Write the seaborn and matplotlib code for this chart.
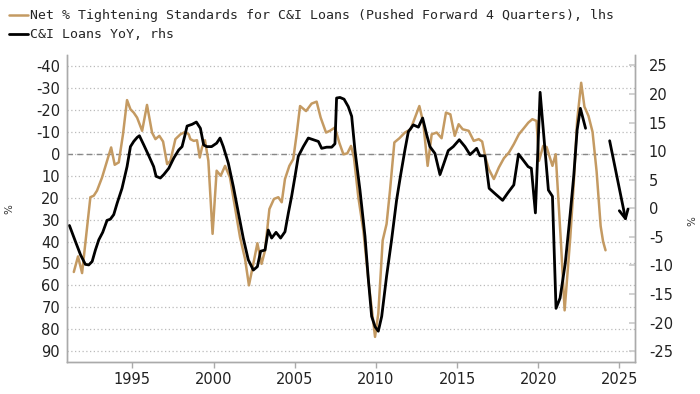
import matplotlib
matplotlib.use('Agg')
import matplotlib.pyplot as plt
from matplotlib.lines import Line2D
import pandas as pd
import seaborn as sns

# Net % tightening standards for C&I loans, pushed forward 4 quarters (lhs, inverted)
sloos_years = [1991.39, 1991.65, 1991.90, 1992.41, 1992.62, 1992.82, 1993.13, 1993.44,
               1993.69, 1993.91, 1994.16, 1994.42, 1994.67, 1994.88, 1995.08, 1995.29,
               1995.60, 1995.90, 1996.21, 1996.42, 1996.66, 1996.89, 1997.14, 1997.34,
               1997.65, 1997.96, 1998.26, 1998.47, 1998.57, 1998.78, 1998.98, 1999.15,
               1999.29, 1999.47, 1999.68, 1999.94, 2000.19, 2000.44, 2000.71, 2001.01,
               2001.32, 2001.63, 2001.94, 2002.18, 2002.45, 2002.70, 2002.96, 2003.17,
               2003.44, 2003.72, 2003.99, 2004.20, 2004.40, 2004.67, 2004.91, 2005.12,
               2005.33, 2005.70, 2006.04, 2006.35, 2006.60, 2006.93, 2007.17, 2007.48,
               2007.75, 2008.00, 2008.24, 2008.47, 2008.65, 2008.92, 2009.23, 2009.54,
               2009.95, 2010.15, 2010.42, 2010.66, 2010.87, 2011.14, 2011.45, 2011.79,
               2012.14, 2012.68, 2012.92, 2013.19, 2013.44, 2013.75, 2014.05, 2014.32,
               2014.59, 2014.86, 2015.10, 2015.35, 2015.72, 2016.03, 2016.34, 2016.55,
               2016.75, 2016.96, 2017.27, 2017.58, 2017.89, 2018.20, 2018.50, 2018.81,
               2019.12, 2019.39, 2019.64, 2019.90, 2020.05, 2020.31, 2020.52, 2020.88,
               2021.08, 2021.40, 2021.63, 2021.98, 2022.19, 2022.40, 2022.65, 2022.85,
               2023.10, 2023.35, 2023.60, 2023.85, 2024.00, 2024.15]
sloos_pct = [53.9, 46.8, 54.4, 19.8, 19.1, 16.8, 10.8, 3.2,
             -2.9, 5.0, 3.9, -8.9, -24.5, -20.3, -18.8, -16.5,
             -10.5, -22.3, -9.7, -6.7, -8.2, -5.6, 4.7, 3.2,
             -6.7, -8.9, -10.0, -8.9, -6.7, -5.9, -6.2, 1.7,
             -2.9, -6.2, 3.2, 36.5, 7.7, 10.0, 5.5, 10.8,
             24.4, 38.0, 47.9, 60.0, 50.2, 40.8, 50.2, 44.1,
             25.2, 20.6, 19.8, 22.1, 11.5, 5.5, 2.4, -8.9,
             -21.8, -19.5, -22.9, -23.8, -16.5, -9.7, -10.5, -12.0,
             -5.0, 0.2, -0.2, -3.6, 1.7, 19.8, 35.0, 57.7,
             83.5, 72.9, 39.5, 32.0, 16.8, -5.2, -7.1, -9.7,
             -11.2, -21.8, -14.2, 5.5, -8.9, -9.7, -7.1, -18.8,
             -18.0, -8.2, -13.5, -11.2, -10.5, -5.9, -6.7, -5.6,
             1.7, 7.0, 11.5, 6.2, 2.0, -0.6, -4.4, -8.9,
             -11.7, -14.2, -15.8, -15.0, 3.2, -3.6, -3.1, 5.5,
             0.2, 40.0, 71.4, 38.0, 13.8, -15.0, -32.4, -21.5,
             -17.3, -10.0, 8.0, 33.0, 40.0, 44.0]

# C&I loans YoY (rhs)
loans_years = [1991.12, 1991.49, 1991.80, 1992.10, 1992.31, 1992.52, 1992.72, 1992.93,
               1993.17, 1993.44, 1993.64, 1993.85, 1994.06, 1994.36, 1994.67, 1994.88,
               1995.08, 1995.29, 1995.43, 1995.70, 1996.01, 1996.31, 1996.46, 1996.72,
               1996.93, 1997.24, 1997.55, 1997.85, 1998.06, 1998.22, 1998.37, 1998.68,
               1998.94, 1999.19, 1999.39, 1999.58, 1999.88, 2000.19, 2000.40, 2000.60,
               2000.91, 2001.22, 2001.53, 2001.83, 2002.14, 2002.45, 2002.70, 2002.90,
               2003.17, 2003.37, 2003.58, 2003.85, 2004.13, 2004.40, 2004.61, 2004.81,
               2005.02, 2005.22, 2005.53, 2005.84, 2006.15, 2006.46, 2006.66, 2006.97,
               2007.28, 2007.48, 2007.58, 2007.79, 2008.04, 2008.30, 2008.51, 2008.71,
               2009.02, 2009.33, 2009.54, 2009.74, 2009.95, 2010.15, 2010.36, 2010.66,
               2010.97, 2011.28, 2011.53, 2011.79, 2012.00, 2012.31, 2012.62, 2012.88,
               2013.13, 2013.33, 2013.64, 2013.95, 2014.16, 2014.46, 2014.77, 2015.14,
               2015.49, 2015.80, 2016.00, 2016.21, 2016.41, 2016.72, 2016.98, 2017.29,
               2017.81, 2018.13, 2018.50, 2018.79, 2019.06, 2019.38, 2019.58, 2019.83,
               2020.12, 2020.35, 2020.63, 2020.88, 2021.10, 2021.35, 2021.67, 2021.98,
               2022.19, 2022.40, 2022.60, 2022.92]
loans_yoy = [-3.0, -5.8, -8.1, -9.8, -9.9, -9.3, -7.3, -5.5,
             -4.2, -2.1, -1.9, -1.1, 0.9, 3.5, 7.3, 10.8,
             11.7, 12.4, 12.7, 11.1, 9.2, 7.3, 5.6, 5.3,
             5.9, 7.0, 8.8, 10.2, 10.8, 12.6, 14.4, 14.7,
             15.1, 14.0, 11.1, 10.8, 10.8, 11.4, 12.3, 10.8,
             7.9, 3.8, -0.8, -5.2, -9.0, -10.8, -10.2, -7.5,
             -7.3, -3.8, -5.2, -4.2, -5.2, -4.1, -0.8, 2.1,
             5.6, 9.1, 10.8, 12.3, 12.0, 11.7, 10.5, 10.7,
             10.7, 11.3, 19.3, 19.4, 19.1, 17.8, 16.1, 10.2,
             3.2, -4.9, -12.5, -18.9, -20.7, -21.5, -18.9, -11.9,
             -5.5, 1.5, 5.9, 10.2, 13.4, 14.6, 14.2, 15.8,
             12.9, 10.8, 9.6, 5.9, 7.6, 10.1, 10.8, 12.0,
             10.8, 9.4, 9.9, 10.5, 9.2, 9.2, 3.5, 2.7,
             1.4, 2.7, 4.1, 9.5, 8.5, 7.3, 7.0, -0.8,
             20.3, 12.6, 3.2, 2.1, -17.5, -15.7, -9.6, -0.8,
             5.6, 13.7, 17.5, 14.0]

# projected direction arrow (rhs)
arrow_years = [2024.37, 2025.45]
arrow_yoy = [12.3, -2.8]

sloos_label = 'Net % Tightening Standards for C&I Loans (Pushed Forward 4 Quarters), lhs'
loans_label = 'C&I Loans YoY, rhs'
year_ticks = [1995, 2000, 2005, 2010, 2015, 2020, 2025]

sns.set_theme(style='white')
plt.rcParams['font.family'] = ['DejaVu Sans']
plt.rcParams['axes.unicode_minus'] = False

gold = '#C49A62'
axis_grey = '#AAAAAA'

df_sloos = pd.DataFrame({'year': sloos_years, 'pct': sloos_pct})
df_loans = pd.DataFrame({'year': loans_years, 'yoy': loans_yoy})

fig, ax = plt.subplots(figsize=(7, 3.94), dpi=100)
fig.subplots_adjust(left=0.0957, right=0.907, bottom=0.081, top=0.86)
ax2 = ax.twinx()

sns.lineplot(data=df_sloos, x='year', y='pct', ax=ax, color=gold, lw=1.8, legend=False)
sns.lineplot(data=df_loans, x='year', y='yoy', ax=ax2, color='black', lw=2.0, legend=False)
ax2.annotate('', xy=(arrow_years[1], arrow_yoy[1]), xytext=(arrow_years[0], arrow_yoy[0]),
             arrowprops=dict(arrowstyle='->', color='black', lw=2.0, mutation_scale=16))

# left axis (inverted)
ax.set_xlim(1990.97, 2025.96)
ax.set_ylim(95, -45)
ax.set_yticks(range(-40, 100, 10))
ax.yaxis.grid(True, linestyle=(0, (1, 2)), color='#BBBBBB', lw=0.9)
ax.axhline(0, ls=(0, (4, 3)), color='#888888', lw=1.0, zorder=1)
ax.set_xticks(year_ticks)
ax.tick_params(axis='y', length=0, pad=5, labelsize=10.5, labelcolor='#222222')
ax.tick_params(axis='x', direction='out', length=4, color=axis_grey, width=1,
               pad=3, labelsize=10.5, labelcolor='#222222', bottom=True)
ax.set_xlabel('')
ax.set_ylabel('%', fontsize=7.5, color='#333333')
ax.yaxis.set_label_coords(-0.092, 0.5)

# right axis
ax2.set_ylim(-26.9, 26.8)
ax2.set_yticks(range(-25, 30, 5))
ax2.grid(False)
ax2.tick_params(axis='y', direction='in', length=4, color='#CCCCCC', pad=10,
                labelsize=10.5, labelcolor='#222222', right=True)
ax2.set_ylabel('%', fontsize=7.5, color='#333333')
ax2.yaxis.set_label_coords(1.092, 0.46)

for a in (ax, ax2):
    a.spines['top'].set_visible(False)
    for s in ('left', 'bottom', 'right'):
        a.spines[s].set_color(axis_grey)
        a.spines[s].set_linewidth(1)

handles = [Line2D([], [], color=gold, lw=1.8), Line2D([], [], color='black', lw=2.0)]
fig.legend(handles, [sloos_label, loans_label], loc='upper left', bbox_to_anchor=(0.0, 1.0),
           frameon=False, handlelength=1.4, handletextpad=0.2, labelspacing=0.45,
           borderaxespad=0.3, prop={'family': 'DejaVu Sans Mono', 'size': 9.5})

fig.savefig('out.png', dpi=100)
